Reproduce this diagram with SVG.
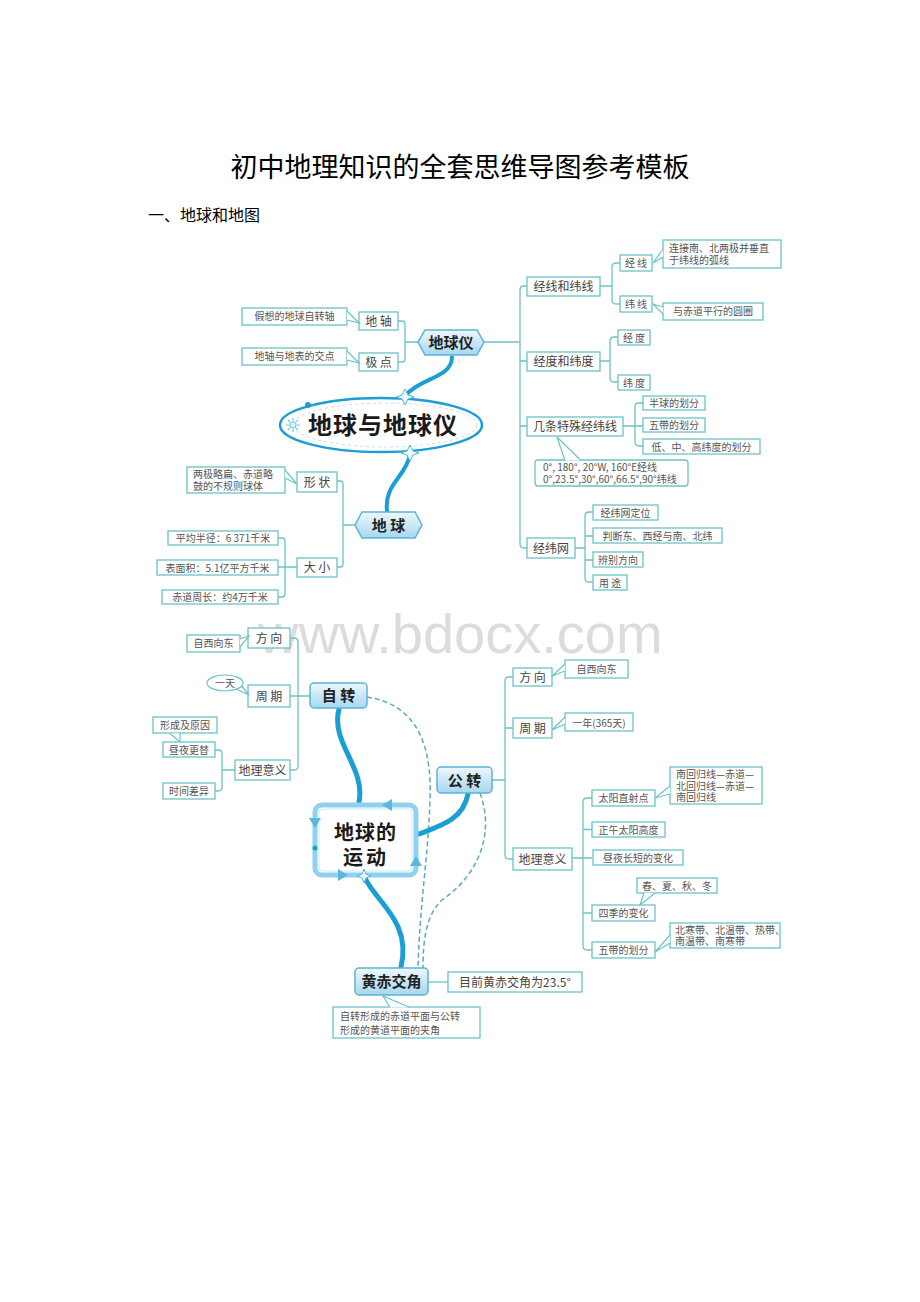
<svg xmlns="http://www.w3.org/2000/svg" width="920" height="1302" viewBox="0 0 920 1302">
<defs>
<linearGradient id="hub" x1="0" y1="0" x2="0" y2="1">
<stop offset="0" stop-color="#eef8fd"/>
<stop offset="1" stop-color="#a6d7ef"/>
</linearGradient>
<style>
.b{fill:#fff;stroke:#6cc3c6;stroke-width:1.3}
.ln{fill:none;stroke:#6cc3c6;stroke-width:1.3}
.pt{fill:#fff;stroke:#6cc3c6;stroke-width:1.2}
.h{fill:url(#hub);stroke:#5ab5d5;stroke-width:1.5}
.t{font-family:"Noto Sans CJK SC",sans-serif;font-size:10px;fill:#555;text-anchor:middle}
.tl{font-family:"Noto Sans CJK SC",sans-serif;font-size:10px;fill:#555}
.m{font-family:"Noto Sans CJK SC",sans-serif;font-size:12px;fill:#444;text-anchor:middle}
.ht{font-family:"Noto Sans CJK SC",sans-serif;font-size:15px;font-weight:bold;fill:#222;text-anchor:middle}
.big{font-family:"Noto Sans CJK SC",sans-serif;font-weight:bold;fill:#1a1a1a;text-anchor:middle}
.thick{fill:none;stroke:#1a9fd5;stroke-linecap:round}
.dash{fill:none;stroke:#5aaab8;stroke-width:1.5;stroke-dasharray:5 3}
</style>
</defs>
<rect width="920" height="1302" fill="#fff"/>
<text x="460" y="177" font-family="Noto Sans CJK SC, sans-serif" font-size="27" fill="#000" text-anchor="middle">初中地理知识的全套思维导图参考模板</text>
<text x="148" y="221" font-family="Noto Sans CJK SC, sans-serif" font-size="16" fill="#000">一、地球和地图</text>
<text x="258" y="653" font-family="Liberation Sans, sans-serif" font-size="56" fill="#dcdcdc">www.bdocx.com</text>

<g id="connectors">
<path class="ln" d="M398,321 h4 q3,0 3,3 V359 q0,3 -3,3 h-4 M405,342 H418"/>
<path class="ln" d="M484,342 H520 M527,286 h-3 q-4,0 -4,4 V544 q0,4 4,4 h3 M520,361 H527 M520,426 H527"/>
<path class="ln" d="M620,263 h-4 q-4,0 -4,4 V300 q0,4 4,4 h4 M600,286 H612"/>
<path class="ln" d="M618,337 h-4 q-4,0 -4,4 V378 q0,4 4,4 h4 M600,361 H610"/>
<path class="ln" d="M643,403 h-4 q-4,0 -4,4 V442 q0,4 4,4 h4 M623,426 H643"/>
<path class="ln" d="M593,512 h-4 q-4,0 -4,4 V578 q0,4 4,4 h4 M575,548 H585 M585,536 H593 M585,560 H593"/>
<path class="ln" d="M337,481 h3 q3,0 3,3 V564 q0,3 -3,3 h-3 M343,525 H355"/>
<path class="ln" d="M278,538 h4 q3,0 3,3 V594 q0,3 -3,3 h-4 M278,567 H297"/>
<path class="thick" stroke-width="4" d="M452,357 C452,378 420,378 406,395"/>
<path class="thick" stroke-width="4" d="M410,455 C405,478 384,484 387,511"/>
<path class="ln" d="M290,638 h4 q4,0 4,4 V766 q0,4 -4,4 h-4 M290,696 H310"/>
<path class="ln" d="M215,750 h3 q4,0 4,4 V787 q0,4 -4,4 h-3 M222,770 H235"/>
<path class="ln" d="M513,677 h-4 q-4,0 -4,4 V855 q0,4 4,4 h4 M492,780 H505 M505,728 H513"/>
<path class="ln" d="M592,798 h-5 q-4,0 -4,4 V946 q0,4 4,4 h5 M572,858 H592 M583,829.5 H592 M583,913 H592"/>
<path class="ln" d="M428,982 H448"/>
<path class="dash" d="M367,697 C420,705 432,750 430,800 C428,860 420,900 418,968"/>
<path class="dash" d="M480,793 C497,840 472,880 442,900 C426,915 423,940 423,968"/>
<path class="thick" stroke-width="5" d="M339,709 C330,742 366,768 359,802"/>
<path class="thick" stroke-width="5" d="M468,794 C463,820 440,826 419,834"/>
<path class="thick" stroke-width="5" d="M365,878 C376,902 412,922 401,967"/>
</g>

<g id="n-diqiuyi">
<polygon class="h" points="418,342 425,330 477,330 484,342 477,355 425,355"/>
<text class="ht" x="451" y="348">地球仪</text>
</g>
<g id="n-dizhou">
<rect class="b" x="359" y="312" width="39" height="18"/>
<text class="m" x="378.5" y="325.5">地 轴</text>
<rect class="b" x="242" y="308" width="105" height="17"/>
<path class="pt" d="M347,311 L359,323 L347,320"/>
<text class="t" x="294.5" y="320">假想的地球自转轴</text>
</g>
<g id="n-jidian">
<rect class="b" x="359" y="353" width="39" height="18"/>
<text class="m" x="378.5" y="366.5">极 点</text>
<rect class="b" x="242" y="348" width="105" height="17"/>
<path class="pt" d="M347,351 L359,363 L347,360"/>
<text class="t" x="294.5" y="360">地轴与地表的交点</text>
</g>
<g id="n-jingxianweixian">
<rect class="b" x="527" y="277" width="73" height="19"/>
<text class="m" x="563.5" y="291" font-size="13">经线和纬线</text>
<rect class="b" x="620" y="255" width="32" height="16"/>
<text class="t" x="636" y="267">经 线</text>
<rect class="b" x="663" y="240" width="118" height="28"/>
<path class="pt" d="M663,249 L653,263 L663,257"/>
<text class="tl" font-size="10"><tspan x="669" y="251.5">连接南、北两极并垂直</tspan><tspan x="669" y="264">于纬线的弧线</tspan></text>
<rect class="b" x="620" y="296" width="32" height="16"/>
<text class="t" x="636" y="308">纬 线</text>
<rect class="b" x="663" y="303" width="100" height="17"/>
<path class="pt" d="M663,307 L653,304 L663,314"/>
<text class="t" x="713" y="315">与赤道平行的圆圈</text>
</g>
<g id="n-jingduweidu">
<rect class="b" x="527" y="352" width="73" height="19"/>
<text class="m" x="563.5" y="366" font-size="13">经度和纬度</text>
<rect class="b" x="618" y="330" width="32" height="15"/>
<text class="t" x="634" y="341.5">经 度</text>
<rect class="b" x="618" y="375" width="32" height="15"/>
<text class="t" x="634" y="386.5">纬 度</text>
</g>
<g id="n-teshu">
<rect class="b" x="527" y="417" width="96" height="19"/>
<text class="m" x="575" y="431" font-size="13">几条特殊经纬线</text>
<rect class="b" x="643" y="396" width="62" height="14"/>
<text class="t" x="674" y="407">半球的划分</text>
<rect class="b" x="643" y="418" width="62" height="14"/>
<text class="t" x="674" y="429">五带的划分</text>
<rect class="b" x="643" y="439" width="117" height="15"/>
<text class="t" x="701.5" y="450.5">低、中、高纬度的划分</text>
<rect class="b" x="535" y="460" width="153" height="26" rx="3"/>
<path class="pt" d="M565,460.5 L557,437 L581,460.5"/>
<text class="tl" font-size="8.5"><tspan x="543" y="471">0°, 180°, 20°W, 160°E经线</tspan><tspan x="543" y="482.5">0°,23.5°,30°,60°,66.5°,90°纬线</tspan></text>
</g>
<g id="n-jingweiwang">
<rect class="b" x="527" y="538" width="48" height="20"/>
<text class="m" x="551" y="553" font-size="13">经纬网</text>
<rect class="b" x="593" y="505" width="65" height="15"/>
<text class="t" x="625.5" y="516.5">经纬网定位</text>
<rect class="b" x="593" y="528" width="129" height="15"/>
<text class="t" x="657.5" y="539.5">判断东、西经与南、北纬</text>
<rect class="b" x="593" y="552" width="50" height="15"/>
<text class="t" x="618" y="563.5">辨别方向</text>
<rect class="b" x="593" y="575" width="34" height="15"/>
<text class="t" x="610" y="586.5">用 途</text>
</g>
<g id="n-center1">
<ellipse cx="381" cy="425" rx="101" ry="27" fill="#fff" stroke="#1a9fd5" stroke-width="2.5"/>
<ellipse cx="385" cy="425" rx="92" ry="22" fill="none" stroke="#bfe0ea" stroke-width="1" stroke-dasharray="3 3"/>
<circle cx="308" cy="405" r="3" fill="#1a9fd5"/>
<g stroke="#7cc8e8" stroke-width="1.2">
<circle cx="293" cy="425" r="3" fill="#e6f5fc"/>
<path d="M293,418 V421 M293,429 V432 M286,425 H289 M297,425 H300 M288,420 L290,422 M296,428 L298,430 M298,420 L296,422 M288,430 L290,428"/>
</g>
<path d="M405,389 L408,395 L414,397 L408,399 L405,405 L402,399 L396,397 L402,395 Z" fill="#eaf7fd" stroke="#5ab5d5" stroke-width="1"/>
<path d="M410,445 L413,451 L419,453 L413,455 L410,461 L407,455 L401,453 L407,451 Z" fill="#eaf7fd" stroke="#5ab5d5" stroke-width="1"/>
<text class="big" x="383" y="434" font-size="24" letter-spacing="1">地球与地球仪</text>
</g>
<g id="n-diqiu">
<polygon class="h" points="355,525 362,512 415,512 422,525 415,538 362,538"/>
<text class="ht" x="388.5" y="531">地  球</text>
</g>
<g id="n-xingzhuang">
<rect class="b" x="297" y="472" width="40" height="20"/>
<text class="m" x="317" y="486.5">形 状</text>
<rect class="b" x="187" y="467" width="98" height="26"/>
<path class="pt" d="M285,470 L297,484 L285,478"/>
<text class="tl" font-size="10"><tspan x="193" y="477.5">两极略扁、赤道略</tspan><tspan x="193" y="490">鼓的不规则球体</tspan></text>
</g>
<g id="n-daxiao">
<rect class="b" x="297" y="558" width="40" height="19"/>
<text class="m" x="317" y="572">大 小</text>
<rect class="b" x="168" y="531" width="110" height="14"/>
<text class="t" x="223" y="542">平均半径：6 371千米</text>
<rect class="b" x="157" y="560" width="121" height="15"/>
<text class="t" x="217.5" y="571.5">表面积：5.1亿平方千米</text>
<rect class="b" x="162" y="590" width="116" height="14"/>
<text class="t" x="220" y="601">赤道周长：约4万千米</text>
</g>

<g id="n-zizhuan">
<rect class="h" x="310" y="683" width="57" height="25" rx="4"/>
<text class="ht" x="338.5" y="701">自 转</text>
</g>
<g id="n-zz-fangxiang">
<rect class="b" x="248" y="628" width="42" height="20"/>
<text class="m" x="269" y="642.5">方 向</text>
<rect class="b" x="187" y="635" width="53" height="17"/>
<path class="pt" d="M240,639 L249,636 L240,647"/>
<text class="t" x="213.5" y="647">自西向东</text>
</g>
<g id="n-zz-zhouqi">
<rect class="b" x="248" y="685" width="42" height="22"/>
<text class="m" x="269" y="700.5">周 期</text>
<path class="pt" d="M234,688 L249,695 L240,684"/>
<ellipse cx="225" cy="683" rx="18" ry="8" fill="#fff" stroke="#6cc3c6" stroke-width="1.2"/>
<text class="t" x="225" y="686.5">一天</text>
</g>
<g id="n-zz-yiyi">
<rect class="b" x="235" y="760" width="55" height="20"/>
<text class="m" x="262.5" y="774.5">地理意义</text>
<rect class="b" x="153" y="717" width="64" height="16"/>
<text class="t" x="185" y="729">形成及原因</text>
<rect class="b" x="163" y="742" width="52" height="15"/>
<path class="pt" d="M170,733.5 L180,742 L180,733.5"/>
<text class="t" x="189" y="753.5">昼夜更替</text>
<rect class="b" x="163" y="783" width="52" height="16"/>
<text class="t" x="189" y="795">时间差异</text>
</g>

<g id="n-gongzhuan">
<rect class="h" x="437" y="767" width="55" height="26" rx="4"/>
<text class="ht" x="464.5" y="785.5">公 转</text>
</g>
<g id="n-gz-fangxiang">
<rect class="b" x="513" y="668" width="39" height="18"/>
<text class="m" x="532.5" y="681.5">方 向</text>
<rect class="b" x="565" y="660" width="63" height="18"/>
<path class="pt" d="M565,664 L552,676 L565,671"/>
<text class="t" x="596.5" y="673">自西向东</text>
</g>
<g id="n-gz-zhouqi">
<rect class="b" x="513" y="718" width="39" height="20"/>
<text class="m" x="532.5" y="732.5">周 期</text>
<rect class="b" x="565" y="713" width="68" height="18"/>
<path class="pt" d="M565,717 L552,730 L565,724"/>
<text class="t" x="599" y="726.5" font-size="10.5">一年(365天)</text>
</g>
<g id="n-gz-yiyi">
<rect class="b" x="513" y="848" width="59" height="22"/>
<text class="m" x="542.5" y="863.5" font-size="13">地理意义</text>
<rect class="b" x="592" y="790" width="63" height="16"/>
<text class="t" x="623.5" y="802">太阳直射点</text>
<rect class="b" x="670" y="767" width="92" height="37"/>
<path class="pt" d="M670,786 L655,798 L670,794"/>
<text class="tl" font-size="8.5"><tspan x="676" y="778">南回归线—赤道—</tspan><tspan x="676" y="789.5">北回归线—赤道—</tspan><tspan x="676" y="801">南回归线</tspan></text>
<rect class="b" x="592" y="822" width="73" height="15"/>
<text class="t" x="628.5" y="833.5">正午太阳高度</text>
<rect class="b" x="593" y="850" width="90" height="15"/>
<text class="t" x="638" y="861.5">昼夜长短的变化</text>
<rect class="b" x="637" y="878" width="80" height="15"/>
<text class="t" x="677" y="889.5">春、夏、秋、冬</text>
<rect class="b" x="592" y="905" width="63" height="16"/>
<path class="pt" d="M644,893 L640,905 L655,893"/>
<text class="t" x="623.5" y="917">四季的变化</text>
<rect class="b" x="670" y="923" width="110" height="25"/>
<path class="pt" d="M670,935 L655,952 L670,943"/>
<text class="tl" font-size="9.5"><tspan x="675" y="933.5">北寒带、北温带、热带、</tspan><tspan x="675" y="945">南温带、南寒带</tspan></text>
<rect class="b" x="592" y="942" width="63" height="16"/>
<text class="t" x="623.5" y="954">五带的划分</text>
</g>

<g id="n-center2">
<rect x="315" y="805" width="101" height="70" rx="7" fill="#fff" stroke="#8ed2f0" stroke-width="5"/>
<rect x="319" y="809" width="93" height="62" rx="4" fill="none" stroke="#cdeaf6" stroke-width="1"/>
<path d="M392,799 L382,805 L392,811 Z" fill="#5ab8e0"/>
<path d="M309,818 L315,828 L321,818 Z" fill="#5ab8e0"/>
<path d="M338,869 L348,875 L338,881 Z" fill="#5ab8e0"/>
<path d="M410,866 L416,856 L422,866 Z" fill="#5ab8e0"/>
<circle cx="315" cy="848" r="2.5" fill="#1a9fd5"/>
<path d="M364,869 L366,874 L371,876 L366,878 L364,883 L362,878 L357,876 L362,874 Z" fill="#eaf7fd" stroke="#5ab5d5" stroke-width="1"/>
<text class="big" font-size="20"><tspan x="365.5" y="840" letter-spacing="1">地球的</tspan><tspan x="366" y="865" letter-spacing="3">运动</tspan></text>
</g>

<g id="n-huangchi">
<rect class="h" x="355" y="968" width="73" height="27" rx="4"/>
<text class="ht" x="391.5" y="987">黄赤交角</text>
</g>
<g id="n-huangchi-val">
<rect class="b" x="448" y="972" width="134" height="20"/>
<text class="m" x="515" y="987" font-size="13">目前黄赤交角为23.5°</text>
</g>
<g id="n-huangchi-def">
<rect class="b" x="333" y="1007" width="147" height="31"/>
<path class="pt" d="M390,1007.5 L383,996 L410,1007.5"/>
<text class="tl" font-size="10.5"><tspan x="340" y="1019.5">自转形成的赤道平面与公转</tspan><tspan x="340" y="1033.5">形成的黄道平面的夹角</tspan></text>
</g>
</svg>
